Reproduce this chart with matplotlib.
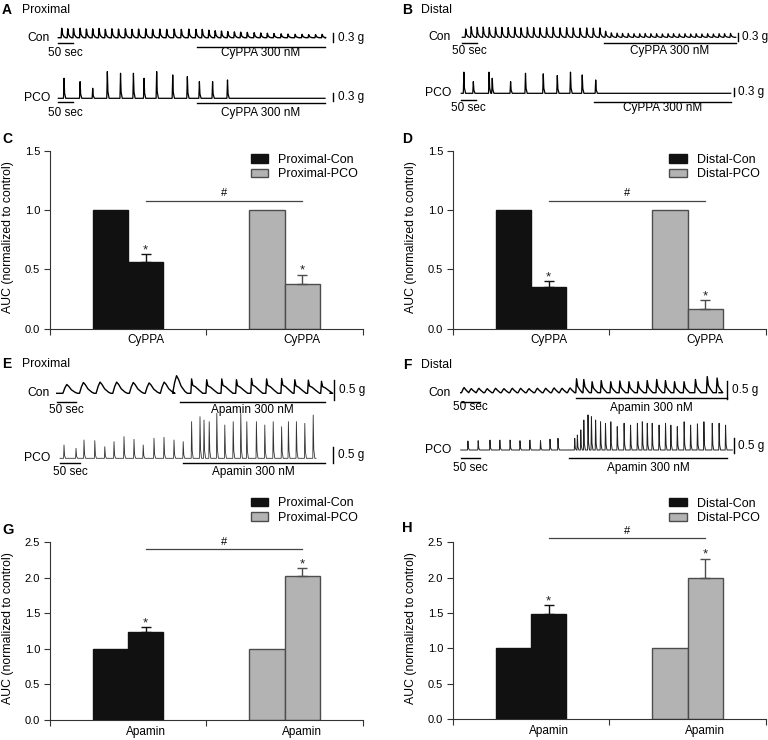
import matplotlib.pyplot as plt
from matplotlib.patches import Patch

plt.rcParams['font.family'] = ['Liberation Sans', 'DejaVu Sans']

# ---- contraction traces: peak time (s) and peak height above baseline (g) ----
a_con_t = [12, 33, 53, 76, 98, 120, 142, 164, 187, 210, 234, 257, 280, 305, 329, 354, 378, 404, 429, 455, 480,
           502, 525, 547, 569, 591, 614, 636, 659, 683, 706, 729, 752, 777, 801, 826, 850, 873, 897, 920]
a_con_g = [0.34, 0.32, 0.33, 0.34, 0.31, 0.32, 0.33, 0.30, 0.32, 0.31, 0.32, 0.30, 0.31, 0.32, 0.30, 0.31, 0.30,
           0.31, 0.30, 0.31, 0.30,
           0.30, 0.27, 0.25, 0.24, 0.22, 0.21, 0.20, 0.19, 0.18, 0.17, 0.16, 0.15, 0.14, 0.13, 0.12, 0.12, 0.11,
           0.11, 0.12]
a_pco_t = [20, 76, 120, 171, 217, 262, 299, 343, 399, 450, 492, 538, 590]
a_pco_g = [0.72, 0.60, 0.36, 0.96, 0.90, 0.90, 0.72, 0.96, 0.84, 0.78, 0.60, 0.60, 0.66]

b_con_t = [12, 31, 52, 73, 94, 116, 138, 160, 183, 205, 227, 249, 271, 294, 317, 341, 364, 387, 411, 434, 457, 480,
           500, 520, 540, 559, 579, 599, 619, 638, 658, 678, 698, 718, 737, 757, 777, 797, 816, 836, 856, 876, 896,
           915, 936]
b_con_g = [0.30, 0.38, 0.36, 0.37, 0.35, 0.36, 0.36, 0.35, 0.36, 0.34, 0.36, 0.35, 0.34, 0.35, 0.36, 0.34, 0.35,
           0.34, 0.33, 0.34, 0.33, 0.34,
           0.22, 0.16, 0.15, 0.14, 0.14, 0.13, 0.13, 0.14, 0.13, 0.13, 0.12, 0.13, 0.13, 0.12, 0.13, 0.12, 0.13,
           0.12, 0.13, 0.12, 0.13, 0.13, 0.14]
b_pco_t = [9, 42, 97, 108, 172, 224, 286, 335, 381, 422, 469]
b_pco_g = [0.76, 0.42, 0.76, 0.54, 0.42, 0.72, 0.70, 0.64, 0.76, 0.66, 0.48]

e_con_t = [26, 69, 112, 155, 198, 239, 278, 310, 349, 388, 427, 465, 504, 543, 582, 616, 651, 685]
e_con_g = [0.22, 0.27, 0.28, 0.28, 0.27, 0.26, 0.28, 0.44, 0.36, 0.34, 0.36, 0.34, 0.37, 0.36, 0.37, 0.34,
           0.33, 0.30]
e_pco_t = [10, 40, 60, 87, 112, 135, 160, 185, 208, 235, 260, 285, 308,
           329, 350, 360, 373, 392, 412, 433, 452, 467, 491, 512, 533, 554, 571, 591, 612, 633]
e_pco_g = [0.40, 0.30, 0.55, 0.53, 0.35, 0.50, 0.65, 0.57, 0.40, 0.60, 0.63, 0.55, 0.50,
           1.10, 1.25, 1.15, 1.10, 1.35, 1.00, 1.10, 1.35, 1.10, 1.10, 1.00, 1.10, 0.95, 1.10, 1.10, 1.05, 1.30]

f_con_t = [9, 28, 48, 70, 92, 114, 136, 158, 180, 202, 224, 246, 267, 288,
           305, 324, 346, 370, 395, 419, 443, 467, 491, 516, 539, 563, 588, 618, 649, 675]
f_con_g = [0.14, 0.11, 0.12, 0.11, 0.12, 0.11, 0.12, 0.12, 0.11, 0.12, 0.12, 0.13, 0.12, 0.13,
           0.38, 0.36, 0.30, 0.33, 0.30, 0.32, 0.30, 0.30, 0.33, 0.36, 0.33, 0.30, 0.30, 0.36, 0.44, 0.40]
f_pco_t = [19, 46, 77, 103, 130, 156, 182, 210, 235, 256,
           300, 307, 316, 324, 335, 344, 355, 368, 381, 395, 412, 430, 447, 465, 478, 491, 504, 522, 539, 553,
           570, 588, 605, 623, 640, 662, 680, 697]
f_pco_g = [0.30, 0.31, 0.33, 0.33, 0.33, 0.31, 0.33, 0.31, 0.36, 0.39,
           0.39, 0.50, 0.67, 1.00, 1.17, 1.11, 1.00, 0.94, 0.89, 0.94, 0.78, 0.89, 0.83, 0.89, 0.94, 0.89, 0.89,
           0.83, 0.89, 0.83, 0.78, 0.94, 0.83, 0.87, 0.94, 0.89, 0.89, 0.83]

# ---- AUC bar data: [Con, Con+drug, PCO, PCO+drug] ----
c_mean = [1.00, 0.56, 1.00, 0.38]
c_err = [0, 0.067, 0, 0.076]
d_mean = [1.00, 0.355, 1.00, 0.17]
d_err = [0, 0.045, 0, 0.07]
g_mean = [1.00, 1.24, 1.00, 2.02]
g_err = [0, 0.07, 0, 0.12]
h_mean = [1.00, 1.49, 1.00, 1.99]
h_err = [0, 0.12, 0, 0.28]

W, H = 768, 740
fig = plt.figure(figsize=(W / 100, H / 100), dpi=100)

BLACK = '#111111'
GRAY = '#b3b3b3'
GRAY_EDGE = '#4d4d4d'
TXT = 8.5


def ftext(x, y, s, **kw):
    kw.setdefault('fontsize', 8.8)
    kw.setdefault('va', 'center')
    fig.text(x / W, 1 - y / H, s, **kw)


def trace(t, amp, t_end, drug, drug_name, scale_g, x0, x1, base, ppg, name,
          bar_y, drug_y, text_y, scale_x, scale_y, shape_pre, shape_post,
          color='black', lw=0.9):
    top, bot = base - 60, base + 30
    ax = fig.add_axes([x0 / W, 1 - bot / H, (x1 - x0) / W, (bot - top) / H])
    ax.set_xlim(0, t_end)
    ax.set_ylim(-(bot - base) / ppg, (base - top) / ppg)
    ax.axis('off')

    def yv(px):
        return (base - px) / ppg

    def xv(px):
        return (px - x0) / (x1 - x0) * t_end

    xs, ys = [0], [0]
    for ti, ai in zip(t, amp):
        shape = shape_pre if ti < drug[0] else shape_post
        for dt, f in shape:
            xs.append(ti + dt)
            ys.append(ai * f)
    xs.append(t_end)
    ys.append(0)
    ax.plot(xs, ys, color=color, lw=lw, clip_on=False)

    # 50 sec time bar
    ax.plot([0, 50], [yv(bar_y)] * 2, color='black', lw=1.0, clip_on=False)
    ax.text(25, yv(text_y), '50 sec', ha='center', va='center', fontsize=TXT)
    # drug application
    ax.plot(drug, [yv(drug_y)] * 2, color='black', lw=1.0, clip_on=False)
    ax.text(sum(drug) / 2, yv(text_y), drug_name, ha='center', va='center', fontsize=TXT)
    # force scale bar
    sy = yv(scale_y)
    ax.plot([xv(scale_x)] * 2, [sy - scale_g / 2, sy + scale_g / 2], color='black', lw=1.0, clip_on=False)
    ax.text(xv(scale_x + 4.5), sy, f'{scale_g} g', ha='left', va='center', fontsize=TXT)
    # trace name
    name_x = 50 if x0 < W / 2 else 451
    ax.text(xv(name_x), 0, name, ha='right', va='center', fontsize=8.7)
    return ax


def bar_panel(left, bottom_px, top_px, means, errs, ymax, drug_name, labels, sig_y, leg_x, leg_y):
    rect = [left / W, 1 - bottom_px / H, 312.7 / W, (bottom_px - top_px) / H]
    ax = fig.add_axes(rect)
    xs = [0.3875, 0.6125, 1.3875, 1.6125]
    faces = [BLACK, BLACK, GRAY, GRAY]
    edges = [BLACK, BLACK, GRAY_EDGE, GRAY_EDGE]
    ax.bar(xs, means, width=0.225, color=faces, edgecolor=edges, linewidth=1.0, zorder=2)
    for x, m, e, ec in zip(xs, means, errs, edges):
        if e:
            ax.errorbar(x, m, yerr=[[0], [e]], fmt='none', ecolor=ec, elinewidth=1.0,
                        capsize=3.5, capthick=1.0, zorder=3)
            ax.annotate('*', (x, m + e), xytext=(0, -1.5), textcoords='offset points',
                        ha='center', va='bottom', fontsize=9.5, color='#222222')
    ax.plot([xs[1], xs[3]], [sig_y] * 2, color='#444444', lw=0.9, clip_on=False)
    ax.annotate('#', ((xs[1] + xs[3]) / 2, sig_y), xytext=(0, 1.5), textcoords='offset points',
                ha='center', va='bottom', fontsize=8, annotation_clip=False)

    ax.set_xlim(0, 2)
    ax.set_ylim(0, ymax)
    yt = [i * 0.5 for i in range(int(ymax / 0.5) + 1)]
    ax.set_yticks(yt)
    ax.set_yticklabels([f'{v:.1f}' for v in yt])
    ax.set_xticks([0, 1, 2])
    ax.set_xticklabels([])
    ax.set_xticks([xs[1], xs[3]], minor=True)
    ax.set_xticklabels([drug_name, drug_name], minor=True, fontsize=8.5)
    ax.tick_params(axis='x', which='minor', length=0, pad=4)
    ax.tick_params(axis='x', which='major', length=4, width=0.8, color='#333333')
    ax.tick_params(axis='y', length=4, width=0.8, color='#333333', labelsize=8, pad=3)
    for s in ['top', 'right']:
        ax.spines[s].set_visible(False)
    for s in ['left', 'bottom']:
        ax.spines[s].set_linewidth(0.8)
        ax.spines[s].set_color('#333333')
    ax.set_ylabel('AUC (normalized to control)', fontsize=8.8, va='center')
    ax.yaxis.set_label_coords(-0.133, 0.515)

    handles = [Patch(facecolor=BLACK, edgecolor=BLACK), Patch(facecolor=GRAY, edgecolor=GRAY_EDGE)]
    ax.legend(handles, labels, loc='upper left', bbox_to_anchor=(leg_x, leg_y), frameon=False,
              fontsize=9, handlelength=1.38, handleheight=0.66, handletextpad=0.8,
              labelspacing=0.22, borderpad=0, borderaxespad=0)
    return ax


spike_shape = [(-2, 0), (0, 1), (2, 0.25), (6, 0)]
fast_shape = [(-1, 0), (0, 1), (1.5, 0.2), (4, 0)]
con_shape = [(-2, 0), (0, 1), (3, 0.35), (8, 0.1), (13, 0)]

# ---- A: proximal, CyPPA ----
ftext(2, 10, 'A', fontsize=10, fontweight='bold')
ftext(21.7, 10, 'Proximal')
trace(a_con_t, a_con_g, 930, (483, 930), 'CyPPA 300 nM', 0.3, 58.3, 325, 37.7, 27.8, 'Con',
      43, 46.7, 53, 333, 37.5, con_shape, con_shape, lw=1.0)
trace(a_pco_t, a_pco_g, 930, (483, 930), 'CyPPA 300 nM', 0.3, 58.3, 325, 98.3, 27.8, 'PCO',
      101.7, 103.3, 113, 333, 96.7, spike_shape, spike_shape, lw=0.9)

# ---- B: distal, CyPPA ----
ftext(402, 10, 'B', fontsize=10, fontweight='bold')
ftext(420.7, 10, 'Distal')
trace(b_con_t, b_con_g, 954, (494, 954), 'CyPPA 300 nM', 0.3, 462.3, 735.7, 37.3, 27.8, 'Con',
      42.7, 42.7, 50.7, 737.5, 36.7, con_shape, con_shape, lw=0.9)
trace(b_pco_t, b_pco_g, 940, (463, 940), 'CyPPA 300 nM', 0.3, 461.3, 730.7, 93.3, 27.8, 'PCO',
      100, 101.7, 108.3, 734, 91.7, spike_shape, spike_shape, lw=0.9)

# ---- E: proximal, apamin ----
ftext(2, 364, 'E', fontsize=10, fontweight='bold')
ftext(21.7, 364, 'Proximal')
trace(e_con_t, e_con_g, 707, (319, 694), 'Apamin 300 nM', 0.5, 56.7, 330, 393.3, 40, 'Con',
      401.7, 401.7, 410, 334.3, 390,
      [(-10, 0), (-5, 0.6), (0, 1), (5, 0.8), (12, 0.4), (22, 0.1), (28, 0)],
      [(-2, 0), (0, 1), (3, 0.55), (10, 0.45), (20, 0.2), (29, 0)], lw=1.0)
trace(e_pco_t, e_pco_g, 640, (307, 662), 'Apamin 300 nM', 0.5, 60, 316, 458.3, 33.3, 'PCO',
      463.3, 462.7, 471.7, 333.3, 455, fast_shape, fast_shape, color='#333333', lw=0.6)

# ---- F: distal, apamin ----
ftext(403, 365, 'F', fontsize=10, fontweight='bold')
ftext(420.7, 365, 'Distal')
trace(f_con_t, f_con_g, 680, (303, 702), 'Apamin 300 nM', 0.5, 460.7, 719, 392.7, 36.7, 'Con',
      401.7, 398.3, 407.5, 727.3, 390,
      [(-7, 0), (-2, 0.8), (0, 1), (4, 0.6), (12, 0)],
      [(-2, 0), (0, 1), (3, 0.45), (9, 0.2), (15, 0)], lw=1.0)
trace(f_pco_t, f_pco_g, 715, (285, 702), 'Apamin 300 nM', 0.5, 460.7, 732.4, 450, 30, 'PCO',
      458.3, 458.3, 468, 734, 445.5, fast_shape, fast_shape, color='#222222', lw=0.7)

# ---- C, D, G, H: AUC bars ----
ftext(2, 139, 'C', fontsize=10, fontweight='bold')
bar_panel(50, 328.7, 150.7, c_mean, c_err, 1.5, 'CyPPA', ['Proximal-Con', 'Proximal-PCO'],
          1.08, 0.642, 0.983)
ftext(402, 139, 'D', fontsize=10, fontweight='bold')
bar_panel(453, 328.7, 150.7, d_mean, d_err, 1.5, 'CyPPA', ['Distal-Con', 'Distal-PCO'],
          1.08, 0.692, 0.983)
ftext(2, 530, 'G', fontsize=10.5, fontweight='bold')
bar_panel(50, 720, 542.3, g_mean, g_err, 2.5, 'Apamin', ['Proximal-Con', 'Proximal-PCO'],
          2.40, 0.642, 1.253)
ftext(402, 528, 'H', fontsize=10.5, fontweight='bold')
bar_panel(453, 719, 542.3, h_mean, h_err, 2.5, 'Apamin', ['Distal-Con', 'Distal-PCO'],
          2.56, 0.692, 1.253)

fig.savefig('out.png', dpi=100)
